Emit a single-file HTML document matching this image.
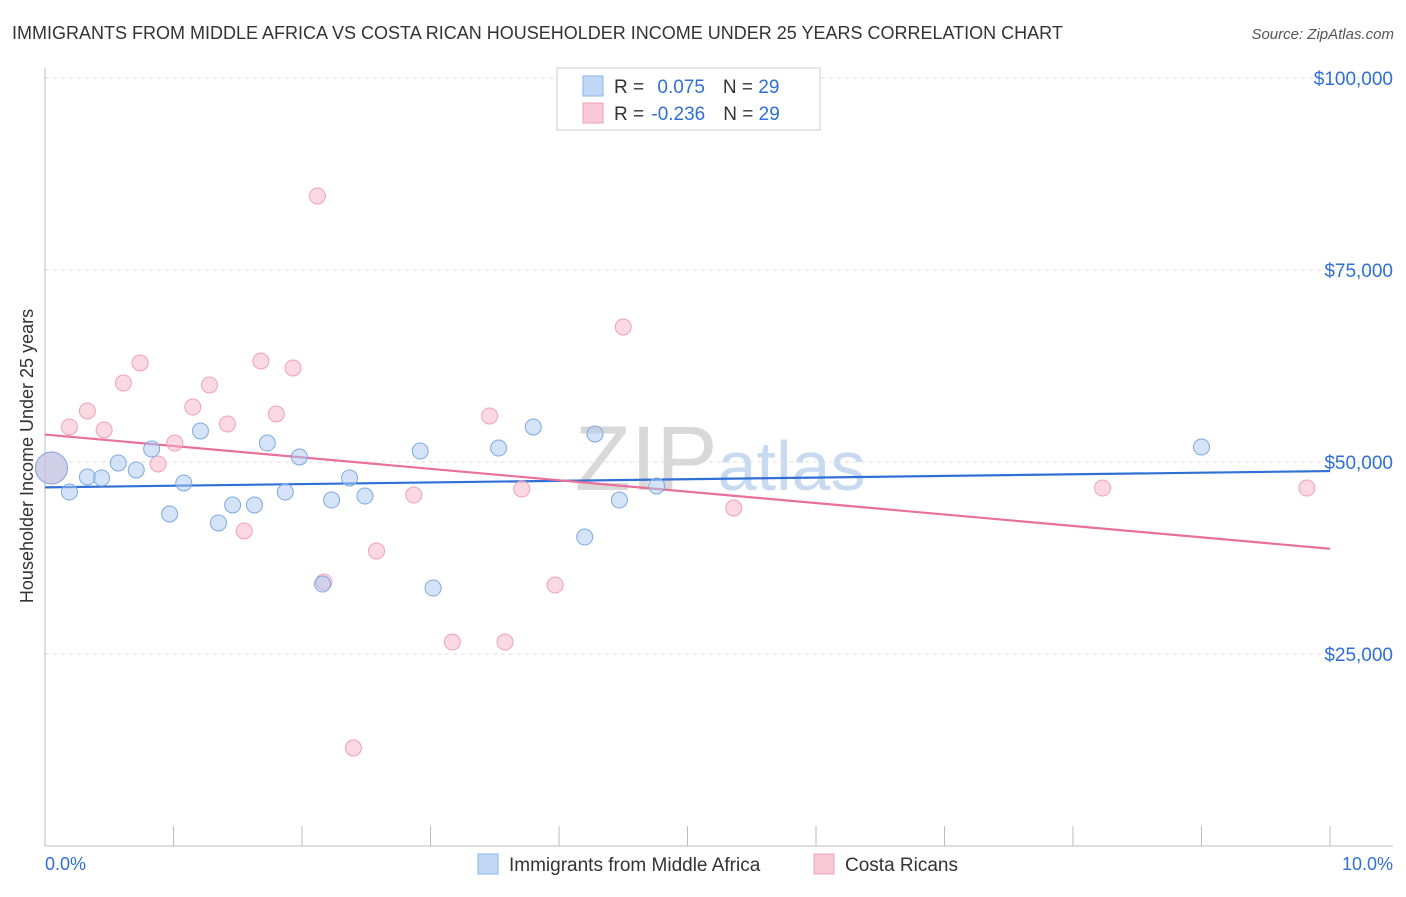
<!DOCTYPE html>
<html><head><meta charset="utf-8"><style>
body{margin:0;background:#fff;font-family:"Liberation Sans",sans-serif;}
svg text{font-family:"Liberation Sans",sans-serif;}
</style></head><body>
<svg id="chart" width="1406" height="892" xmlns="http://www.w3.org/2000/svg">
<text x="12" y="39" font-size="18" fill="#333">IMMIGRANTS FROM MIDDLE AFRICA VS COSTA RICAN HOUSEHOLDER INCOME UNDER 25 YEARS CORRELATION CHART</text>
<text x="1394" y="39" font-size="15" fill="#555" font-style="italic" text-anchor="end">Source: ZipAtlas.com</text>
<text x="33" y="456" font-size="18" fill="#333" text-anchor="middle" transform="rotate(-90 33 456)">Householder Income Under 25 years</text>
<text x="720" y="490" font-size="92" fill="#dde3ea" text-anchor="middle" font-family="Liberation Serif"><tspan fill="#d8d8d8">ZIP</tspan><tspan fill="#c8daf0" font-family="Liberation Sans" font-size="70">atlas</tspan></text>
<g id="grid"></g><g id="axes"></g><g id="lines"></g><g id="pts"></g>
<g>
<rect x="557" y="68" width="263" height="62" fill="#fff" stroke="#ccc"/>
<rect x="583" y="76" width="20" height="20" fill="#c0d7f5" stroke="#8ab4e8"/>
<rect x="583" y="103" width="20" height="20" fill="#f9c9d7" stroke="#f0a0b8"/>
<text x="614" y="93" font-size="19" fill="#333">R = <tspan fill="#2f6fd6" dx="8">0.075</tspan><tspan dx="18" fill="#333">N = </tspan><tspan fill="#2f6fd6">29</tspan></text>
<text x="614" y="120" font-size="19" fill="#333">R = <tspan fill="#2f6fd6" dx="2">-0.236</tspan><tspan dx="18" fill="#333">N = </tspan><tspan fill="#2f6fd6">29</tspan></text>
</g>
<g>
<rect x="478" y="854" width="20" height="20" fill="#c0d7f5" stroke="#8ab4e8"/>
<text x="509" y="871" font-size="19" fill="#333">Immigrants from Middle Africa</text>
<rect x="814" y="854" width="20" height="20" fill="#f9c9d7" stroke="#f0a0b8"/>
<text x="845" y="871" font-size="19" fill="#333">Costa Ricans</text>
</g>
<text x="45" y="870" font-size="18" fill="#2f6fd6">0.0%</text>
<text x="1393" y="870" font-size="18" fill="#2f6fd6" text-anchor="end">10.0%</text>
</svg>
<script>
const blueX=[0.05,0.19,0.33,0.44,0.57,0.71,0.83,0.97,1.08,1.21,1.35,1.46,1.63,1.73,1.87,1.98,2.16,2.23,2.37,2.49,2.92,3.02,3.53,3.80,4.20,4.28,4.47,4.76,9.00];
const blueY=[49220,46090,48050,47920,49870,48960,51690,43230,47270,54040,42060,44400,44400,52470,46090,50650,34110,45050,47920,45570,51430,33590,51820,54560,40230,53650,45050,46880,51950];
const pinkX=[0.05,0.19,0.33,0.46,0.61,0.74,0.88,1.01,1.15,1.28,1.42,1.55,1.68,1.80,1.93,2.12,2.17,2.40,2.58,2.87,3.17,3.46,3.58,3.71,3.97,4.50,5.36,8.23,9.82];
const pinkY=[49220,54560,56640,54170,60290,62890,49740,52470,57160,60030,54950,41020,63150,56250,62240,84640,34380,12760,38410,45700,26560,55990,26560,46480,33980,67580,44010,46610,46610];
const yTicks=[25000,50000,75000,100000];
const yTickLabels=["$25,000","$50,000","$75,000","$100,000"];
const xTicks=[0,1,2,3,4,5,6,7,8,9,10];
const NS="http://www.w3.org/2000/svg";
const xs=p=>45+p*128.5, ys=v=>462-(v-50000)*192/25000;
function mk(t,a,parent){const e=document.createElementNS(NS,t);for(const k in a)e.setAttribute(k,a[k]);document.getElementById(parent).appendChild(e);return e;}
yTicks.forEach((v,i)=>{
 const l=mk('line',{x1:45,x2:1393,y1:ys(v),y2:ys(v),stroke:'#ddd','stroke-dasharray':'4,4'},'grid');
 
 
 const t=mk('text',{x:1393,y:ys(v)+7,'font-size':19,fill:'#2f6fd6','text-anchor':'end'},'grid');t.textContent=yTickLabels[i];
 
 
});
const ya=mk('line',{x1:45,x2:45,y1:68,y2:846,stroke:'#bbb'},'axes');


const xa=mk('line',{x1:45,x2:1393,y1:846,y2:846,stroke:'#bbb'},'axes');


xTicks.forEach(p=>{const t=mk('line',{x1:xs(p),x2:xs(p),y1:826,y2:846,stroke:'#bbb'},'axes');
 
 });
function reg(X,Y){const n=X.length;let mx=0,my=0;X.forEach((x,i)=>{mx+=x;my+=Y[i];});mx/=n;my/=n;let sxy=0,sxx=0;X.forEach((x,i)=>{sxy+=(x-mx)*(Y[i]-my);sxx+=(x-mx)*(x-mx);});const b=sxy/sxx;return [my-b*mx,b];}
[[blueX,blueY,'#2f6fd6','blue'],[pinkX,pinkY,'#e8709a','pink']].forEach(([X,Y,c,n])=>{
 const [a,b]=reg(X,Y);
 const l=mk('line',{x1:xs(0),y1:ys(a),x2:xs(10),y2:ys(a+b*10),stroke:c,'stroke-width':2.2},'lines');
 
 
});
function pts(X,Y,fill,stroke,n){X.forEach((x,i)=>{
 const c=mk('circle',{cx:xs(x),cy:ys(Y[i]),r:i==0?16:8,fill:fill,stroke:stroke,'stroke-width':1},'pts');
 
 
});}
pts(pinkX,pinkY,'rgba(246,180,200,0.5)','#f0a0b8','costa-rican');
pts(blueX,blueY,'rgba(170,200,240,0.5)','#7fa9e0','middle-africa');
</script>
</body></html>
